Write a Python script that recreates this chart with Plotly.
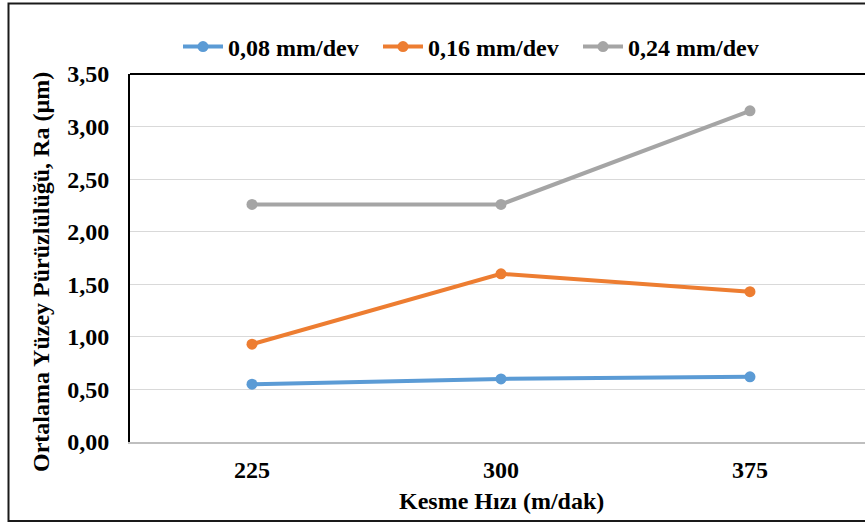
import plotly.graph_objects as go

categories = ["225", "300", "375"]
series_names = ["0,08 mm/dev", "0,16 mm/dev", "0,24 mm/dev"]
ra_008 = [0.55, 0.60, 0.62]
ra_016 = [0.93, 1.60, 1.43]
ra_024 = [2.26, 2.26, 3.15]
colors = ["#5B9BD5", "#ED7D31", "#A5A5A5"]
y_ticks = [0, 0.5, 1.0, 1.5, 2.0, 2.5, 3.0, 3.5]

FONT = "Liberation Serif, Times New Roman, serif"
FS = 24

fig = go.Figure()
for name, vals, col in zip(series_names, [ra_008, ra_016, ra_024], colors):
    fig.add_trace(go.Scatter(
        x=categories, y=vals, name=name, mode="lines+markers",
        line=dict(color=col, width=4),
        marker=dict(color=col, size=11),
    ))

W, H = 865, 524
L, R, T, B = 130, 0, 74, 82
pw, ph = W - L - R, H - T - B

def px(x):
    return (x - L) / pw

def py(y):
    return (H - B - y) / ph

fig.update_layout(
    width=W, height=H,
    margin=dict(l=L, r=R, t=T, b=B),
    paper_bgcolor="white", plot_bgcolor="white",
    separators=",.",
    font=dict(family=FONT, size=FS, color="black", weight="bold"),
    showlegend=True,
    legend=dict(orientation="h", x=px(478), xanchor="center", y=py(47), yanchor="middle",
                font=dict(family=FONT, size=FS, color="black", weight="bold"),
                itemwidth=40, entrywidth=145, traceorder="normal"),
    xaxis=dict(
        type="category", range=[-0.49, 2.462],
        showgrid=False, showline=True, linecolor="#BFBFBF", linewidth=2,
        ticks="outside", ticklen=5, tickcolor="rgba(0,0,0,0)",
        tickfont=dict(family=FONT, size=FS, color="black", weight="bold"),
        fixedrange=True,
    ),
    yaxis=dict(
        range=[0, 3.5], tickvals=y_ticks, tickformat=".2f",
        showgrid=True, gridcolor="#D9D9D9", gridwidth=1,
        showline=True, linecolor="black", linewidth=2,
        ticks="outside", ticklen=14, tickcolor="rgba(0,0,0,0)",
        tickfont=dict(family=FONT, size=FS, color="black", weight="bold"),
        zeroline=False, fixedrange=True,
    ),
    annotations=[
        dict(text="Kesme Hızı (m/dak)", xref="paper", yref="paper",
             x=px(501), y=py(501), xanchor="center", yanchor="middle", showarrow=False,
             font=dict(family=FONT, size=FS, color="black", weight="bold")),
        dict(text="Ortalama Yüzey Pürüzlülüğü, Ra (µm)", xref="paper", yref="paper",
             x=px(41), y=py(272), xanchor="center", yanchor="middle", showarrow=False,
             textangle=-90,
             font=dict(family=FONT, size=FS, color="black", weight="bold")),
    ],
    shapes=[
        dict(type="line", xref="paper", yref="paper", x0=0, x1=1, y0=1, y1=1,
             line=dict(color="black", width=2)),
        dict(type="rect", xref="paper", yref="paper",
             x0=px(8.5), x1=px(880), y0=py(3.5), y1=py(521),
             line=dict(color="#1a1a1a", width=2), layer="above"),
    ],
)

fig.write_html("out.html", config={"displayModeBar": False},
               post_script="document.body.style.margin='0';document.body.style.padding='0';")
